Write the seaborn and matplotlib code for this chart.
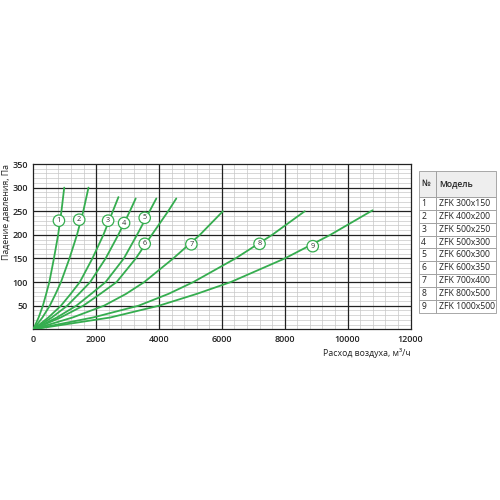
import matplotlib
matplotlib.use("Agg")
import matplotlib.pyplot as plt
import seaborn as sns
import pandas as pd

sns.set_theme(style="white")
plt.rcParams['font.family'] = ['Open Sans', 'DejaVu Sans']

# ---- data ----
models = ["ZFK 300x150", "ZFK 400x200", "ZFK 500x250", "ZFK 500x300", "ZFK 600x300",
          "ZFK 600x350", "ZFK 700x400", "ZFK 800x500", "ZFK 1000x500"]
numbers = ["1", "2", "3", "4", "5", "6", "7", "8", "9"]

p_a = [0, 25, 50, 75, 100, 150, 200, 250, 300]
q1 = [0, 170, 305, 410, 510, 656, 790, 895, 984]
q2 = [0, 290, 525, 710, 880, 1150, 1390, 1590, 1756]
p_b = [0, 25, 50, 75, 100, 150, 200, 250, 280]
q3 = [0, 480, 880, 1190, 1480, 1880, 2230, 2530, 2709]
p_c = [0, 25, 50, 75, 100, 150, 200, 250, 277]
q4 = [0, 590, 1080, 1450, 1810, 2300, 2704, 3072, 3258]
q5 = [0, 750, 1370, 1840, 2300, 2880, 3300, 3700, 3914]
q6 = [0, 870, 1590, 2130, 2650, 3260, 3770, 4290, 4549]
p_d = [0, 25, 50, 75, 100, 150, 200, 250]
q7 = [0, 1250, 2250, 2950, 3530, 4450, 5300, 6032]
q8 = [0, 1900, 3350, 4300, 5090, 6430, 7600, 8636]
p_e = [0, 25, 50, 75, 100, 150, 200, 252]
q9 = [0, 2450, 4000, 5200, 6280, 8000, 9450, 10795]

# label positions of circled numbers (flow, pressure)
lab_q = [815, 1460, 2380, 2888, 3544, 3544, 5029, 7198, 8890]
lab_p = [230, 232, 230, 225, 236, 181, 180, 181, 176]

xticks = [0, 2000, 4000, 6000, 8000, 10000, 12000]
yticks = [50, 100, 150, 200, 250, 300, 350]

qs = [q1, q2, q3, q4, q5, q6, q7, q8, q9]
ps = [p_a, p_a, p_b, p_c, p_c, p_c, p_d, p_d, p_e]
df = pd.concat([pd.DataFrame({"q": q, "p": p, "n": n}) for q, p, n in zip(qs, ps, numbers)],
               ignore_index=True)

green = "#35ad4f"
dark = "#222222"

fig = plt.figure(figsize=(5, 5), dpi=100)
fig.patch.set_facecolor("white")
ax = fig.add_axes([0.0666, 0.3414, 0.7544, 0.3306])

ax.set_xlim(0, 12000)
ax.set_ylim(0, 350)

# grid: minor lines first, then major lines on top
for x in range(0, 12001, 400):
    if x % 2000:
        ax.axvline(x, color="#c8c8c8", lw=0.5, zorder=0.5)
for y in range(0, 351, 10):
    if y % 50:
        ax.axhline(y, color="#c8c8c8", lw=0.5, zorder=0.5)
for x in xticks[1:-1]:
    ax.axvline(x, color=dark, lw=0.9, zorder=1)
for y in yticks[:-1]:
    ax.axhline(y, color=dark, lw=0.9, zorder=1)

sns.lineplot(data=df, x="q", y="p", hue="n", palette=[green] * 9, legend=False,
             ax=ax, linewidth=1.3, sort=False, estimator=None, zorder=3)

ax.set_xlim(0, 12000)
ax.set_ylim(0, 350)
ax.set_xticks(xticks)
ax.set_yticks(yticks)
ax.grid(False)
for s in ax.spines.values():
    s.set_color(dark)
    s.set_linewidth(0.9)
ax.tick_params(which="both", length=0, labelsize=6.5, colors=dark, pad=4)
for t in ax.get_xticklabels() + ax.get_yticklabels():
    t.set_fontweight("semibold")

ax.set_xlabel("Расход воздуха, м³/ч", fontsize=6.3, loc="right", color=dark, labelpad=3)
ax.set_ylabel("Падение давления, Па", fontsize=6.3, loc="top", color=dark, labelpad=1)

for n, x, y in zip(numbers, lab_q, lab_p):
    ax.text(x, y, n, ha="center", va="center", fontsize=5.3, color="#333333", zorder=5,
            bbox=dict(boxstyle="circle,pad=0.3", fc="white", ec=green, lw=0.9))

# ---- table ----
tax = fig.add_axes([0.8386, 0.3734, 0.1528, 0.2852])
tax.axis("off")
cells = [[n, m] for n, m in zip(numbers, models)]
tbl = tax.table(cellText=cells, colLabels=["№", "Модель"], bbox=[0, 0, 1, 1],
                cellLoc="left", colLoc="left", colWidths=[0.22, 0.78])
tbl.auto_set_font_size(False)
hh = 0.182
rh = (1 - hh) / 9
for (r, c), cell in tbl.get_celld().items():
    cell.set_edgecolor("#9a9a9a")
    cell.set_linewidth(0.6)
    cell.set_height(hh if r == 0 else rh)
    cell.get_text().set_fontsize(6.2)
    cell.get_text().set_color(dark)
    cell.PAD = 0.12 if c == 0 else 0.05
    if r == 0:
        cell.set_facecolor("#eeeeee")
        cell.get_text().set_fontweight("semibold")
    else:
        cell.set_facecolor("white")

fig.savefig("out.png", dpi=100, facecolor="white")
